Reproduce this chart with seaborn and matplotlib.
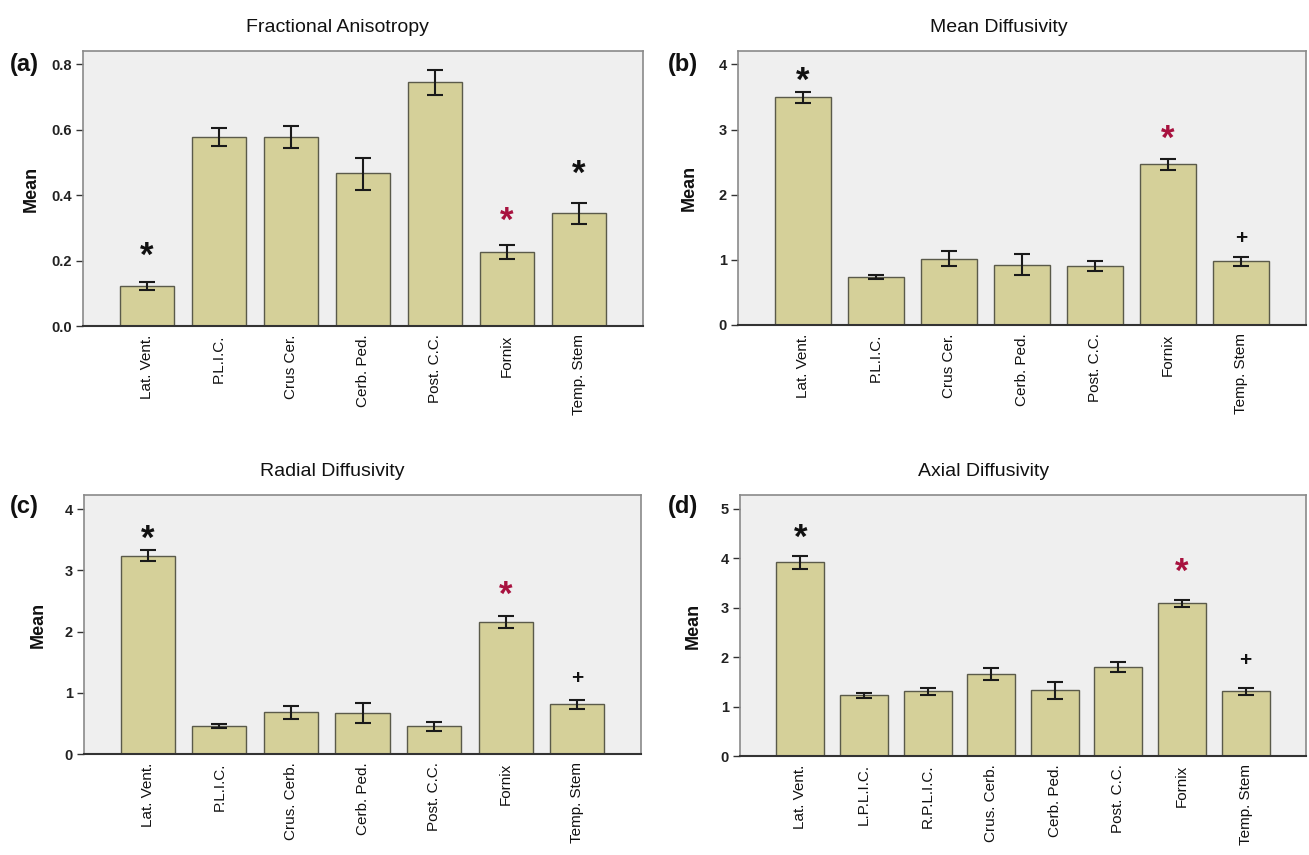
import matplotlib
matplotlib.use("Agg")
import matplotlib.pyplot as plt
import seaborn as sns
import numpy as np
import pandas as pd

sns.set_theme(style="white")
plt.rcParams['font.family'] = ['Liberation Sans', 'DejaVu Sans']

# ---------------- data ----------------
cats_a = ["Lat. Vent.", "P.L.I.C.", "Crus Cer.", "Cerb. Ped.", "Post. C.C.", "Fornix", "Temp. Stem"]
mean_a = [0.122, 0.578, 0.578, 0.466, 0.746, 0.227, 0.346]
lo_a = [0.110, 0.550, 0.544, 0.414, 0.707, 0.205, 0.312]
hi_a = [0.134, 0.606, 0.612, 0.514, 0.782, 0.246, 0.377]
ticks_a = [0.0, 0.2, 0.4, 0.6, 0.8]
ticklabels_a = ["0.0", "0.2", "0.4", "0.6", "0.8"]

cats_b = ["Lat. Vent.", "P.L.I.C.", "Crus Cer.", "Cerb. Ped.", "Post. C.C.", "Fornix", "Temp. Stem"]
mean_b = [3.50, 0.733, 1.02, 0.923, 0.908, 2.467, 0.985]
lo_b = [3.41, 0.70, 0.908, 0.764, 0.836, 2.374, 0.913]
hi_b = [3.58, 0.77, 1.128, 1.087, 0.985, 2.554, 1.05]
ticks_b = [0, 1, 2, 3, 4]

cats_c = ["Lat. Vent.", "P.L.I.C.", "Crus. Cerb.", "Cerb. Ped.", "Post. C.C.", "Fornix", "Temp. Stem"]
mean_c = [3.24, 0.46, 0.685, 0.674, 0.457, 2.152, 0.81]
lo_c = [3.15, 0.43, 0.576, 0.51, 0.38, 2.054, 0.734]
hi_c = [3.33, 0.49, 0.79, 0.83, 0.527, 2.25, 0.886]
ticks_c = [0, 1, 2, 3, 4]

cats_d = ["Lat. Vent.", "L.P.L.I.C.", "R.P.L.I.C.", "Crus. Cerb.", "Cerb. Ped.", "Post. C.C.", "Fornix", "Temp. Stem"]
mean_d = [3.92, 1.228, 1.316, 1.667, 1.33, 1.795, 3.09, 1.316]
lo_d = [3.79, 1.174, 1.235, 1.545, 1.154, 1.694, 3.01, 1.235]
hi_d = [4.04, 1.27, 1.376, 1.78, 1.49, 1.90, 3.165, 1.383]
ticks_d = [0, 1, 2, 3, 4, 5]

# annotations: (category index, y value, symbol, colour key)
marks_a = [(0, 0.233, "*", "k"), (5, 0.340, "*", "r"), (6, 0.484, "*", "k")]
marks_b = [(0, 3.85, "*", "k"), (5, 2.95, "*", "r"), (6, 1.37, "+", "k")]
marks_c = [(0, 3.62, "*", "k"), (5, 2.70, "*", "r"), (6, 1.28, "+", "k")]
marks_d = [(0, 4.55, "*", "k"), (6, 3.85, "*", "r"), (7, 2.00, "+", "k")]

titles = ["Fractional Anisotropy", "Mean Diffusivity", "Radial Diffusivity", "Axial Diffusivity"]
letters = ["(a)", "(b)", "(c)", "(d)"]

# ---------------- style ----------------
BAR = "#d5d099"
BG = "#efefef"
EDGE = "#5a5a4a"
RED = "#a8123f"
TICKFONT = ['Liberation Sans Narrow', 'Liberation Sans', 'DejaVu Sans']

W, H = 1309, 855
fig = plt.figure(figsize=(W / 100, H / 100), dpi=100)

def rect(l, t, r, b):
    return [l / W, 1 - b / H, (r - l) / W, (b - t) / H]

panels = [
    dict(pos=rect(83, 51, 643, 326), cats=cats_a, mean=mean_a, lo=lo_a, hi=hi_a,
         ticks=ticks_a, tl=ticklabels_a, ylim=0.84, marks=marks_a, tx=0.455, lx=10, ly=65, ylx=31),
    dict(pos=rect(738, 51, 1306, 325), cats=cats_b, mean=mean_b, lo=lo_b, hi=hi_b,
         ticks=ticks_b, tl=[str(t) for t in ticks_b], ylim=4.205, marks=marks_b, tx=0.46, lx=668, ly=65, ylx=689),
    dict(pos=rect(84, 495, 641, 754), cats=cats_c, mean=mean_c, lo=lo_c, hi=hi_c,
         ticks=ticks_c, tl=[str(t) for t in ticks_c], ylim=4.23, marks=marks_c, tx=0.445, lx=10, ly=507, ylx=38),
    dict(pos=rect(740, 495, 1306, 756), cats=cats_d, mean=mean_d, lo=lo_d, hi=hi_d,
         ticks=ticks_d, tl=[str(t) for t in ticks_d], ylim=5.28, marks=marks_d, tx=0.43, lx=668, ly=507, ylx=693),
]

for i, p in enumerate(panels):
    ax = fig.add_axes(p["pos"])
    ax.set_facecolor(BG)
    df = pd.DataFrame({"region": p["cats"], "mean": p["mean"]})
    sns.barplot(data=df, x="region", y="mean", color=BAR, saturation=1, width=0.755,
                edgecolor=EDGE, linewidth=1.0, errorbar=None, ax=ax, zorder=2)
    x = np.arange(len(p["cats"]))
    m = np.array(p["mean"])
    yerr = [m - np.array(p["lo"]), np.array(p["hi"]) - m]
    ax.errorbar(x, m, yerr=yerr, fmt="none", ecolor="#1a1a1a", elinewidth=1.5,
                capsize=6, capthick=1.5, zorder=3)
    n = len(p["cats"])
    pad = 0.89 if n == 7 else 0.95
    ax.set_xlim(-pad, n - 1 + pad)
    ax.set_ylim(0, p["ylim"])
    ax.set_yticks(p["ticks"])
    ax.set_yticklabels(p["tl"], family=TICKFONT, fontsize=10.5, fontweight="bold", color="#222222")
    ax.set_xticks(x)
    ax.set_xticklabels(p["cats"], rotation=90, fontsize=11, color="#111111")
    ax.tick_params(axis="y", direction="out", length=5, width=1, color="#333333", pad=3, left=True)
    ax.tick_params(axis="x", length=0, pad=6)
    ax.set_xlabel("")
    ax.set_ylabel("")
    for s in ["top", "right", "left"]:
        ax.spines[s].set_color("#8a8a8a")
        ax.spines[s].set_linewidth(1.2)
    ax.spines["bottom"].set_color("#333333")
    ax.spines["bottom"].set_linewidth(1.5)
    for (xi, yv, sym, col) in p["marks"]:
        c = RED if col == "r" else "#111111"
        if sym == "*":
            ax.annotate("*", xy=(xi, yv), xytext=(0, -7), textcoords="offset pixels",
                        ha="center", va="center", fontsize=25, fontweight="bold",
                        color=c, zorder=4)
        else:
            ax.annotate("+", xy=(xi, yv), xytext=(0, -3), textcoords="offset pixels",
                        ha="center", va="center", fontsize=15, fontweight="bold",
                        color=c, zorder=4)
    ax.set_title(titles[i], x=p["tx"], fontsize=14, pad=14, color="#111111")
    fig.text(p["lx"] / W, 1 - p["ly"] / H, letters[i], fontsize=17, fontweight="bold",
             ha="left", va="center", color="#111111")
    fig.text(p["ylx"] / W, p["pos"][1] + p["pos"][3] / 2, "Mean", fontsize=13,
             fontweight="bold", rotation=90, ha="center", va="center", color="#111111")

fig.savefig("out.png", dpi=100, facecolor="white")
